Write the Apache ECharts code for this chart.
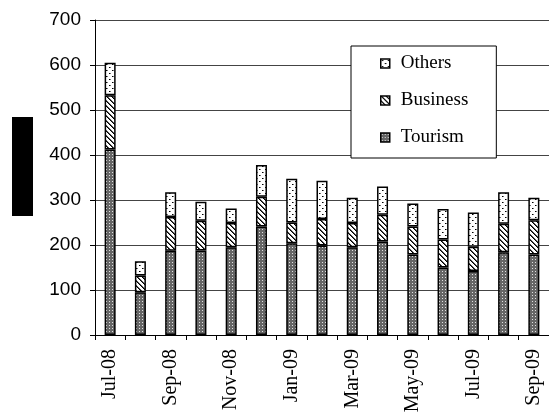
<!DOCTYPE html>
<html>
<head>
<meta charset="utf-8">
<script src="https://cdn.jsdelivr.net/npm/echarts@6/dist/echarts.min.js"></script>
<style>
html,body{margin:0;padding:0;background:#fff;}
#chart{width:549px;height:416px;}
</style>
</head>
<body>
<div id="chart"></div>
<script>
const categories = ['Jul-08','Aug-08','Sep-08','Oct-08','Nov-08','Dec-08','Jan-09','Feb-09','Mar-09','Apr-09','May-09','Jun-09','Jul-09','Aug-09','Sep-09'];
const tourism  = [412, 95, 187, 188, 195, 241, 204, 199, 195, 208, 179, 150, 142, 184, 179];
const business = [121, 37, 75, 66, 54, 66, 46, 59, 54, 59, 62, 62, 54, 63, 76];
const others   = [72, 32, 55, 42, 32, 71, 97, 85, 56, 63, 51, 68, 76, 70, 50];
const yTicks = [0, 100, 200, 300, 400, 500, 600, 700];

function pattern(kind) {
  const c = document.createElement('canvas');
  const ctx = c.getContext('2d');
  if (kind === 'tourism') {
    c.width = 3; c.height = 3;
    ctx.fillStyle = '#666666'; ctx.fillRect(0, 0, 3, 3);
    ctx.fillStyle = '#e0e0e0'; ctx.fillRect(1, 1, 1, 1);
  } else if (kind === 'business') {
    c.width = 5; c.height = 5;
    ctx.fillStyle = '#ffffff'; ctx.fillRect(0, 0, 5, 5);
    for (let i = 0; i < 5; i++) {
      ctx.fillStyle = '#000000';
      ctx.fillRect(i, i, 1, 1);
      ctx.fillStyle = '#555555';
      ctx.fillRect((i + 1) % 5, i, 1, 1);
    }
  } else {
    c.width = 6; c.height = 6;
    ctx.fillStyle = '#ffffff'; ctx.fillRect(0, 0, 6, 6);
    ctx.fillStyle = '#000000';
    ctx.fillRect(1, 1, 1, 1);
    ctx.fillRect(4, 4, 1, 1);
    ctx.fillStyle = '#777777';
    ctx.fillRect(2, 1, 1, 1);
    ctx.fillRect(5, 4, 1, 1);
  }
  return { image: c, repeat: 'repeat' };
}

const chart = echarts.init(document.getElementById('chart'), null, { renderer: 'canvas' });

function barSeries(name, data, kind) {
  return {
    name: name,
    type: 'bar',
    stack: 'total',
    data: data,
    barWidth: 11,
    itemStyle: {
      color: pattern(kind),
      borderColor: '#000',
      borderWidth: 1.5
    },
    emphasis: { disabled: true }
  };
}

chart.setOption({
  animation: false,
  backgroundColor: '#fff',
  grid: { left: 95, top: 20, right: -3, bottom: 81, containLabel: false },
  legend: {
    data: ['Others', 'Business', 'Tourism'],
    orient: 'vertical',
    icon: 'rect',
    left: 351,
    top: 46,
    padding: [8, 28, 11, 29],
    itemGap: 18,
    itemWidth: 9,
    itemHeight: 9,
    backgroundColor: '#fff',
    borderColor: '#000',
    borderWidth: 1,
    itemStyle: { borderColor: '#000', borderWidth: 1.5 },
    textStyle: { fontFamily: 'Liberation Serif', fontSize: 19, color: '#000', padding: [0, 0, 0, 6] }
  },
  xAxis: {
    type: 'category',
    data: categories,
    boundaryGap: true,
    axisLine: { lineStyle: { color: '#000', width: 1 } },
    axisTick: { show: true, alignWithLabel: false, interval: 0, length: 5, lineStyle: { color: '#000' } },
    axisLabel: {
      interval: 1,
      rotate: 90,
      margin: 14,
      fontFamily: 'Liberation Serif',
      fontSize: 20,
      color: '#000'
    },
    splitLine: { show: false }
  },
  yAxis: {
    type: 'value',
    min: yTicks[0],
    max: yTicks[yTicks.length - 1],
    interval: 100,
    axisLine: { show: true, lineStyle: { color: '#000', width: 1 } },
    axisTick: { show: true, length: 5, inside: false, lineStyle: { color: '#000' } },
    axisLabel: {
      margin: 14,
      fontFamily: 'Liberation Sans',
      fontSize: 19,
      color: '#000'
    },
    splitLine: { show: true, lineStyle: { color: '#444', width: 1 } }
  },
  graphic: [{
    type: 'rect',
    left: 12,
    top: 117,
    shape: { width: 21, height: 99 },
    style: { fill: '#000' }
  }],
  series: [
    barSeries('Tourism', tourism, 'tourism'),
    barSeries('Business', business, 'business'),
    barSeries('Others', others, 'others')
  ]
});
</script>
</body>
</html>
